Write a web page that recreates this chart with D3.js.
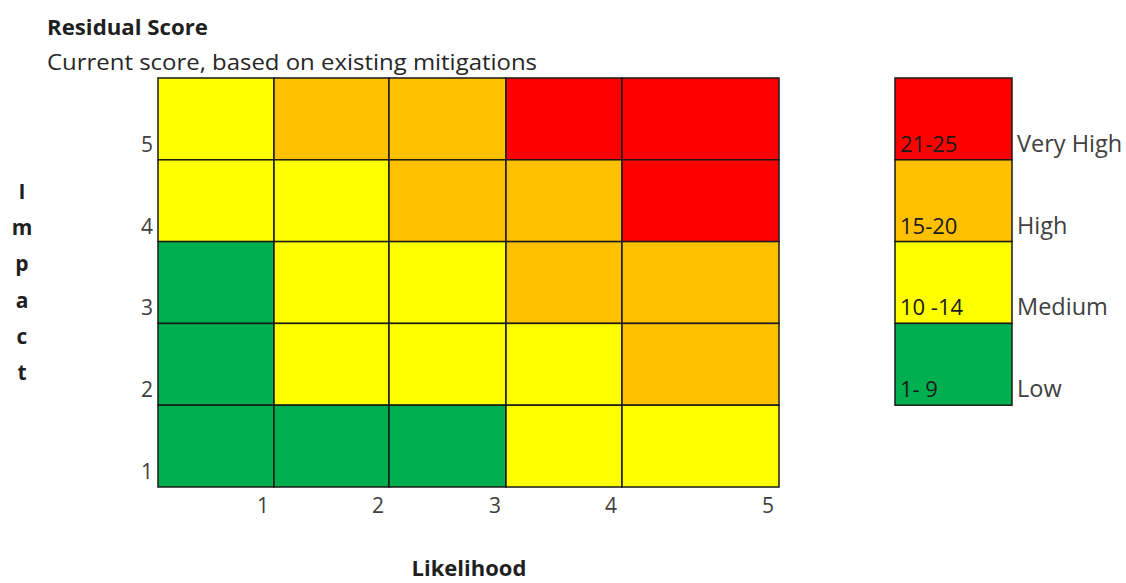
<!DOCTYPE html>
<html>
<head>
<meta charset="utf-8">
<script src="https://cdn.jsdelivr.net/npm/d3@7"></script>
<style>
  body { margin: 0; background: #fff; }
  svg text { font-family: "Open Sans", "Noto Sans", sans-serif; }
</style>
</head>
<body>
<svg id="chart" width="1126" height="583"></svg>
<script>
// likelihood (columns) and impact (rows)
var likelihood = [1, 2, 3, 4, 5];
var impact = [1, 2, 3, 4, 5];

// rating per cell, rows listed from impact 5 down to impact 1
var ratingRows = [
  ["Medium", "High",   "High",   "Very High", "Very High"],
  ["Medium", "Medium", "High",   "High",      "Very High"],
  ["Low",    "Medium", "Medium", "High",      "High"],
  ["Low",    "Medium", "Medium", "Medium",    "High"],
  ["Low",    "Low",    "Low",    "Medium",    "Medium"]
];

var levels = ["Very High", "High", "Medium", "Low"];
var levelRanges = ["21-25", "15-20", "10 -14", "1- 9"];
var levelColors = ["#ff0000", "#ffc000", "#ffff00", "#00b050"];

var svg = d3.select("#chart");

// column edges are not even: last column is wider
var x = d3.scaleLinear()
    .domain([0, 1, 2, 3, 4, 5])
    .range([158, 274, 389, 506, 622, 779]);
var y = d3.scaleLinear()
    .domain([0, 5])
    .range([487, 78]);

var color = d3.scaleOrdinal().domain(levels).range(levelColors);

// flatten the grid into cells
var cells = [];
ratingRows.forEach(function(row, r) {
  row.forEach(function(level, c) {
    cells.push({ l: likelihood[c], i: impact[impact.length - 1 - r], level: level });
  });
});

svg.append("g")
    .attr("class", "cells")
  .selectAll("rect")
  .data(cells)
  .enter().append("rect")
    .attr("x", function(d) { return x(d.l - 1); })
    .attr("y", function(d) { return y(d.i); })
    .attr("width", function(d) { return x(d.l) - x(d.l - 1); })
    .attr("height", function(d) { return y(d.i - 1) - y(d.i); })
    .attr("fill", function(d) { return color(d.level); })
    .attr("stroke", "#1a1a1a")
    .attr("stroke-width", 1.5);

// axis labels sit at the inner corner of each row / column
svg.append("g")
    .attr("class", "x-ticks")
  .selectAll("text")
  .data(likelihood)
  .enter().append("text")
    .attr("x", function(d) { return x(d) - 11; })
    .attr("y", 513)
    .attr("text-anchor", "middle")
    .attr("fill", "#404040")
    .style("font-size", "21px")
    .text(function(d) { return d; });

svg.append("g")
    .attr("class", "y-ticks")
  .selectAll("text")
  .data(impact)
  .enter().append("text")
    .attr("x", 153)
    .attr("y", function(d) { return y(d - 1) - 8; })
    .attr("text-anchor", "end")
    .attr("fill", "#404040")
    .style("font-size", "21px")
    .text(function(d) { return d; });

// titles
svg.append("text")
    .attr("x", 47).attr("y", 35)
    .attr("fill", "#1f1f1f")
    .style("font-size", "22px")
    .style("font-weight", "bold")
    .attr("textLength", 161)
    .attr("lengthAdjust", "spacingAndGlyphs")
    .text("Residual Score");

svg.append("text")
    .attr("x", 47).attr("y", 70)
    .attr("fill", "#262626")
    .style("font-size", "22px")
    .attr("textLength", 490)
    .attr("lengthAdjust", "spacingAndGlyphs")
    .text("Current score, based on existing mitigations");

svg.append("g")
    .attr("class", "y-title")
  .selectAll("text")
  .data("Impact".split(""))
  .enter().append("text")
    .attr("x", 22)
    .attr("y", function(d, i) { return 199 + i * 36.2; })
    .attr("text-anchor", "middle")
    .attr("fill", "#1f1f1f")
    .style("font-size", "21px")
    .style("font-weight", "bold")
    .text(function(d) { return d; });

svg.append("text")
    .attr("x", 469).attr("y", 576)
    .attr("text-anchor", "middle")
    .attr("fill", "#1f1f1f")
    .style("font-size", "22px")
    .style("font-weight", "bold")
    .text("Likelihood");

// legend, rows aligned with the grid rows
var ly = d3.scaleBand().domain(levels).range([y(5), y(1)]);
var legend = svg.append("g").attr("class", "legend");
var item = legend.selectAll("g")
  .data(levels)
  .enter().append("g");

item.append("rect")
    .attr("x", 895)
    .attr("y", function(d) { return ly(d); })
    .attr("width", 117)
    .attr("height", ly.bandwidth())
    .attr("fill", function(d) { return color(d); })
    .attr("stroke", "#1a1a1a")
    .attr("stroke-width", 1.5);

item.append("text")
    .attr("x", 900)
    .attr("y", function(d) { return ly(d) + ly.bandwidth() - 8; })
    .attr("fill", "#1a1a1a")
    .style("font-size", "22px")
    .text(function(d, i) { return levelRanges[i]; });

item.append("text")
    .attr("x", 1017)
    .attr("y", function(d) { return ly(d) + ly.bandwidth() - 8; })
    .attr("fill", "#404040")
    .style("font-size", "23.5px")
    .text(function(d) { return d; });
</script>
</body>
</html>
